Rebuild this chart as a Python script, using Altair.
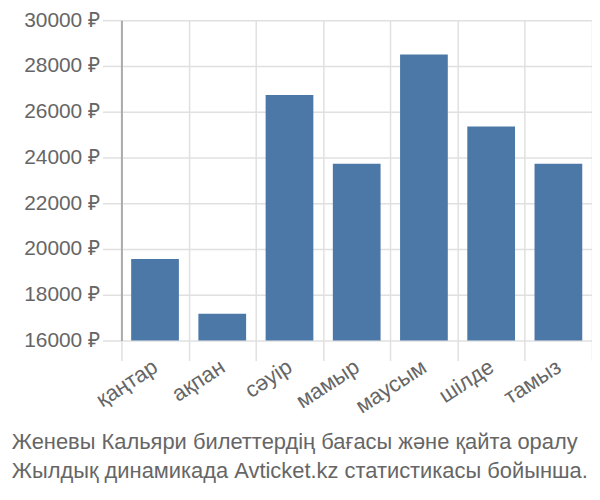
import altair as alt
import pandas as pd

months = ["қаңтар", "ақпан", "сәуір", "мамыр", "маусым", "шілде", "тамыз"]
prices = [19560, 17170, 26730, 23720, 28500, 25350, 23720]
y_ticks = [16000, 18000, 20000, 22000, 24000, 26000, 28000, 30000]
title_lines = ["Женевы Кальяри билеттердің бағасы және қайта оралу",
               "Жылдық динамикада Avticket.kz статистикасы бойынша."]

df = pd.DataFrame({"month": months, "price": prices})

FONT = "Liberation Sans"

chart = (
    alt.Chart(df)
    .mark_bar(color="#4c78a8", width=alt.RelativeBandSize(0.71))
    .encode(
        x=alt.X("month:N", sort=months, title=None,
                scale=alt.Scale(paddingInner=0, paddingOuter=0),
                axis=alt.Axis(tickBand="extent", labelAngle=-33, labelAlign="right",
                              labelBaseline="middle", labelFontSize=22, tickSize=20,
                              labelPadding=4, domain=False, grid=True)),
        y=alt.Y("price:Q", title=None,
                scale=alt.Scale(domain=[16000, 30000], zero=False, nice=False),
                axis=alt.Axis(values=y_ticks, labelExpr="datum.value + ' ₽'",
                              labelFontSize=21, tickSize=19, labelPadding=3, domain=True,
                              domainColor="#aaaaaa", domainWidth=2, grid=True)),
        y2=alt.datum(16000),
    )
    .properties(
        width=473,
        height=322,
        autosize=alt.AutoSizeParams(type="none"),
        padding={"left": 114, "top": 11, "right": 0, "bottom": 145},
        title=alt.TitleParams(
            text=title_lines,
            orient="bottom", anchor="start", frame="bounds", fontSize=22,
            fontWeight="normal", color="#666666", font=FONT, lineHeight=30, offset=15,
            dx=-12,
        ),
    )
    .configure_view(stroke=None)
    .configure_axis(labelFont=FONT, labelColor="#666666", gridColor="#e0e0e0",
                    tickColor="#e0e0e0", gridWidth=1.5, tickWidth=1.5)
)

chart.save("out.html", embed_options={"renderer": "svg", "actions": False})
